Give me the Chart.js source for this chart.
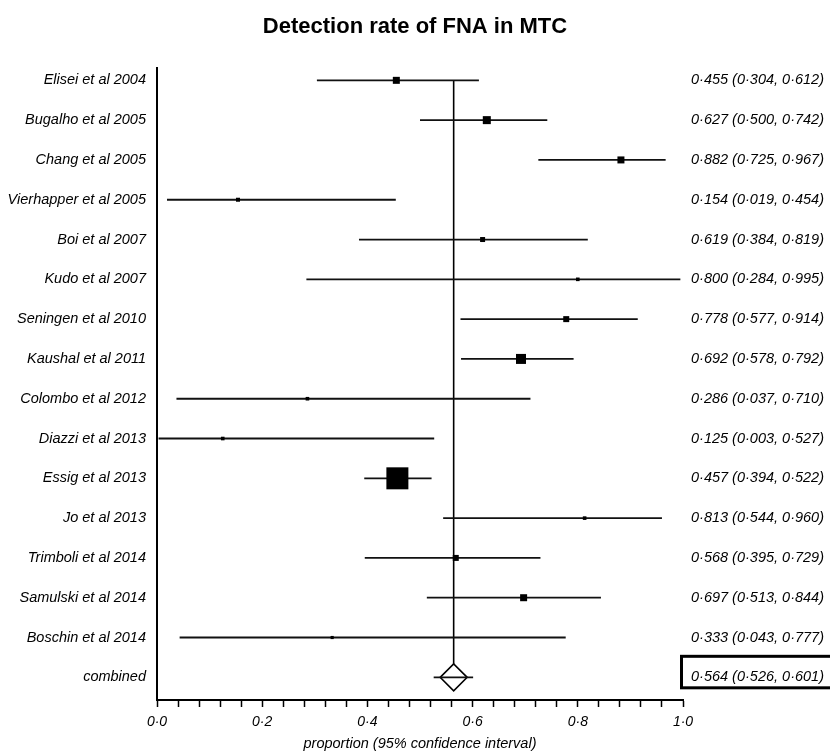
<!DOCTYPE html>
<html>
<head>
<meta charset="utf-8">
<title>Detection rate of FNA in MTC</title>
<script src="https://cdn.jsdelivr.net/npm/chart.js@4/dist/chart.umd.min.js"></script>
<style>
    html, body { margin: 0; padding: 0; background: #fff; }
</style>
</head>
<body>
<canvas id="forest" width="830" height="753"></canvas>
<script>
// Study rows, top to bottom (last row is the pooled estimate)
const studies = [
    'Elisei et al 2004', 'Bugalho et al 2005', 'Chang et al 2005', 'Vierhapper et al 2005',
    'Boi et al 2007', 'Kudo et al 2007', 'Seningen et al 2010', 'Kaushal et al 2011',
    'Colombo et al 2012', 'Diazzi et al 2013', 'Essig et al 2013', 'Jo et al 2013',
    'Trimboli et al 2014', 'Samulski et al 2014', 'Boschin et al 2014', 'combined'
];
const estimates = [0.455, 0.627, 0.882, 0.154, 0.619, 0.800, 0.778, 0.692, 0.286, 0.125, 0.457, 0.813, 0.568, 0.697, 0.333, 0.564];
const lower     = [0.304, 0.500, 0.725, 0.019, 0.384, 0.284, 0.577, 0.578, 0.037, 0.003, 0.394, 0.544, 0.395, 0.513, 0.043, 0.526];
const upper     = [0.612, 0.742, 0.967, 0.454, 0.819, 0.995, 0.914, 0.792, 0.710, 0.527, 0.522, 0.960, 0.729, 0.844, 0.777, 0.601];
// relative study weights (box area)
const weights   = [4.9, 6.4, 4.9, 1.6, 2.5, 1.3, 3.6, 10.0, 1.3, 1.3, 48.4, 1.3, 3.6, 4.9, 1.0];
const xTickLabels = ['0·0', '0·2', '0·4', '0·6', '0·8', '1·0'];

const FONT = "'Liberation Sans', Arial, sans-serif";
const pooled = studies.length - 1;
const rows = studies.map((s, i) => i);

function fmt(v) {
    return v.toFixed(3).replace('.', '·');
}

// square side grows with sqrt of weight, biggest one is ~22px
function boxRadius(w) {
    const side = 22 * Math.sqrt(w / Math.max(...weights));
    return side / Math.SQRT2;
}

const datasets = [];

// pooled estimate reference line
datasets.push({
    data: [{ x: estimates[pooled], y: 0 }, { x: estimates[pooled], y: pooled }],
    showLine: true,
    borderColor: '#000',
    borderWidth: 1.6,
    pointRadius: 0,
    order: 3
});

// pooled diamond
datasets.push({
    data: [{ x: estimates[pooled], y: pooled }],
    pointStyle: 'rectRot',
    pointRadius: 13.5,
    pointBackgroundColor: '#fff',
    pointBorderColor: '#000',
    pointBorderWidth: 1.6,
    order: 2
});

// confidence interval lines
studies.forEach((name, i) => {
    datasets.push({
        data: [{ x: lower[i], y: i }, { x: upper[i], y: i }],
        showLine: true,
        borderColor: '#111',
        borderWidth: 1.8,
        pointRadius: 0,
        order: 1
    });
});

// study squares
datasets.push({
    data: weights.map((w, i) => ({ x: estimates[i], y: i })),
    pointStyle: 'rect',
    pointRadius: weights.map(boxRadius),
    pointBackgroundColor: '#000',
    pointBorderWidth: 0,
    order: 0
});

// thick frame round the pooled result text
const pooledBox = {
    id: 'pooledBox',
    afterDraw(chart) {
        const { ctx, chartArea, scales } = chart;
        const y = scales.yr.getPixelForValue(pooled);
        ctx.save();
        ctx.strokeStyle = '#000';
        ctx.lineWidth = 3;
        ctx.strokeRect(chartArea.right - 1.5, y - 21, chart.width - chartArea.right + 10, 31.5);
        ctx.restore();
    }
};

const rowTicks = axis => { axis.ticks = rows.map(v => ({ value: v })); };
const labelFont = { family: FONT, size: 14.5, style: 'italic' };

new Chart(document.getElementById('forest'), {
    type: 'scatter',
    data: { datasets: datasets },
    options: {
        responsive: false,
        animation: false,
        events: [],
        layout: { padding: 0 },
        plugins: {
            legend: { display: false },
            tooltip: { enabled: false },
            title: {
                display: true,
                text: 'Detection rate of FNA in MTC',
                color: '#000',
                font: { family: FONT, size: 22, weight: 'bold' },
                padding: { top: 14, bottom: 27.6 }
            }
        },
        scales: {
            x: {
                type: 'linear',
                min: 0,
                max: 1,
                border: { display: true, color: '#000', width: 2 },
                grid: { drawOnChartArea: false, drawTicks: true, tickLength: 7, tickColor: '#000', tickWidth: 1.5 },
                ticks: {
                    stepSize: 0.04,
                    autoSkip: false,
                    maxRotation: 0,
                    padding: 7,
                    color: '#000',
                    font: { family: FONT, size: 14, style: 'italic' },
                    callback: v => {
                        const k = Math.round(v / 0.2);
                        return Math.abs(v - k * 0.2) < 1e-6 ? xTickLabels[k] : '';
                    }
                },
                title: {
                    display: true,
                    text: 'proportion (95% confidence interval)',
                    color: '#000',
                    font: { family: FONT, size: 14.5, style: 'italic' },
                    padding: { top: 0, bottom: 0 }
                },
                afterFit: s => { s.height = 53; }
            },
            y: {
                type: 'linear',
                position: 'left',
                reverse: true,
                min: -0.31,
                max: 15.57,
                border: { display: true, color: '#000', width: 2 },
                grid: { display: false },
                afterBuildTicks: rowTicks,
                ticks: {
                    autoSkip: false,
                    padding: 3,
                    color: '#000',
                    font: labelFont,
                    callback: v => studies[v]
                },
                afterFit: s => { s.width = 157; }
            },
            yr: {
                type: 'linear',
                position: 'right',
                reverse: true,
                min: -0.31,
                max: 15.57,
                border: { display: false },
                grid: { display: false },
                afterBuildTicks: rowTicks,
                ticks: {
                    autoSkip: false,
                    padding: 0,
                    color: '#000',
                    font: labelFont,
                    callback: v => fmt(estimates[v]) + ' (' + fmt(lower[v]) + ', ' + fmt(upper[v]) + ')'
                },
                afterFit: s => { s.width = 147; }
            }
        }
    },
    plugins: [pooledBox]
});
</script>
</body>
</html>
